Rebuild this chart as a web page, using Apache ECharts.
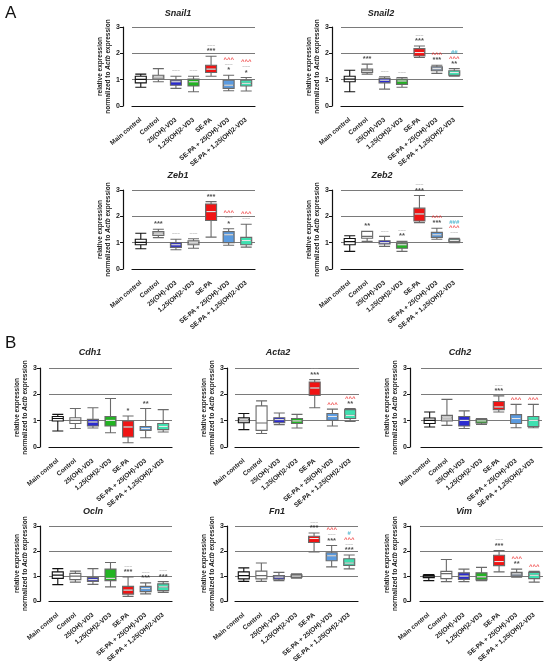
<!DOCTYPE html>
<html>
<head>
<meta charset="utf-8">
<script src="https://cdn.jsdelivr.net/npm/echarts/dist/echarts.min.js"></script>
<style>
  html, body { margin: 0; padding: 0; background: #fff; }
  #main { width: 550px; height: 665px; }
</style>
</head>
<body>
<div id="main"></div>
<script>
// groups, same for every panel
const categories = ['Main control', 'Control', '25(OH)-VD3', '1,25(OH)2-VD3', 'SE-PA', 'SE-PA + 25(OH)-VD3', 'SE-PA + 1,25(OH)2-VD3'];
const genes = ['Snail1', 'Snail2', 'Zeb1', 'Zeb2', 'Cdh1', 'Acta2', 'Cdh2', 'Ocln', 'Fn1', 'Vim'];
const yTicks = [0, 1, 2, 3];

// box values per group: [min, Q1, median, Q3, max]
const snail1 = [[0.71,0.88,1.01,1.13,1.21],[0.92,1.02,1.11,1.17,1.42],[0.67,0.79,0.92,0.98,1.13],[0.54,0.76,0.92,1.02,1.13],[1.13,1.27,1.40,1.55,1.89],[0.58,0.67,0.79,0.98,1.17],[0.57,0.76,0.86,0.98,1.08]];
const snail2 = [[0.54,0.92,1.02,1.13,1.36],[1.21,1.27,1.34,1.40,1.59],[0.64,0.88,0.98,1.05,1.11],[0.71,0.82,0.95,1.02,1.08],[1.84,1.90,2.03,2.18,2.28],[1.24,1.34,1.42,1.49,1.55],[1.13,1.17,1.27,1.34,1.42]];
const zeb1 = [[0.77,0.92,1.01,1.13,1.36],[1.19,1.27,1.36,1.42,1.51],[0.73,0.82,0.92,1.00,1.13],[0.79,0.92,1.00,1.07,1.15],[1.21,1.84,2.18,2.47,2.56],[0.90,1.00,1.30,1.42,1.53],[0.83,0.92,1.08,1.20,1.70]];
const zeb2 = [[0.67,0.92,1.04,1.16,1.26],[1.05,1.17,1.24,1.43,1.43],[0.86,0.95,1.00,1.07,1.24],[0.67,0.79,0.92,0.98,1.05],[1.76,1.82,2.09,2.31,2.79],[1.13,1.20,1.30,1.39,1.55],[1.00,1.05,1.08,1.13,1.17]];
const cdh1 = [[0.61,0.99,1.08,1.16,1.24],[0.70,0.89,1.01,1.11,1.46],[0.72,0.80,0.95,1.05,1.49],[0.54,0.80,1.01,1.16,1.84],[0.16,0.38,0.76,0.99,1.18],[0.35,0.63,0.70,0.78,1.46],[0.57,0.66,0.78,0.89,1.42]];
const acta2 = [[0.66,0.92,1.04,1.11,1.27],[0.51,0.63,0.91,1.56,1.75],[0.85,0.92,1.04,1.11,1.29],[0.72,0.89,0.99,1.08,1.24],[1.49,1.96,2.24,2.47,2.56],[0.80,1.01,1.16,1.27,1.44],[0.97,1.08,1.20,1.42,1.46]];
const cdh2 = [[0.76,0.89,1.01,1.10,1.33],[0.82,0.99,1.11,1.20,1.81],[0.70,0.80,1.01,1.16,1.37],[0.86,0.91,0.99,1.05,1.08],[1.33,1.42,1.52,1.73,1.94],[0.73,0.89,1.08,1.23,1.62],[0.73,0.78,1.01,1.16,1.62]];
const ocln = [[0.66,0.91,1.04,1.17,1.30],[0.76,0.86,1.00,1.11,1.20],[0.67,0.79,0.86,0.94,1.30],[0.57,0.82,0.91,1.28,1.54],[0.19,0.28,0.44,0.59,0.97],[0.29,0.38,0.50,0.59,0.73],[0.35,0.42,0.57,0.69,0.78]];
const fn1 = [[0.79,0.89,1.02,1.17,1.33],[0.79,0.89,1.02,1.20,1.52],[0.82,0.88,0.96,1.02,1.15],[0.92,0.96,1.00,1.05,1.09],[1.96,2.34,2.50,2.59,2.72],[1.37,1.61,1.81,1.93,2.22],[1.29,1.43,1.52,1.69,1.84]];
const vim = [[0.82,0.94,0.97,1.03,1.06],[0.78,0.90,1.10,1.19,1.66],[0.78,0.87,1.00,1.13,1.28],[0.82,0.85,0.97,1.13,1.35],[1.17,1.42,1.58,1.83,2.02],[0.96,1.00,1.09,1.15,1.28],[0.76,0.90,1.03,1.15,1.19]];

// significance marks stacked above each box, bottom to top
const snail1Sig = [[],[],['~~~'],['~~~'],['***','~~~'],['*','~~~','^^^'],['*','~~~','^^^']];
const snail2Sig = [[],['***'],['~~~'],['~~~'],['***','~~~'],['***','^^^'],['**','^^^','##']];
const zeb1Sig = [[],['***'],['~~~'],['~~~'],['***','~~~'],['*','~~~','^^^'],['~~~','^^^']];
const zeb2Sig = [[],['**'],['~~~'],['**','~~~'],['***','~~~'],['***','^^^'],['~~~','^^^','###']];
const cdh1Sig = [[],[],[],[],['*'],['**'],[]];
const acta2Sig = [[],[],[],[],['***','~~~'],['^^^'],['**','^^^']];
const cdh2Sig = [[],[],[],[],['***','~~~'],['^^^'],['^^^']];
const oclnSig = [[],[],[],[],['***','~~~'],['***','~~~'],['***','~~~']];
const fn1Sig = [[],[],[],[],['***','~~~'],['***','~~~','^^^'],['***','~~~','^^^','#']];
const vimSig = [[],[],[],[],['***','~~~'],['**','^^^'],['^^^']];

const boxData = [snail1, snail2, zeb1, zeb2, cdh1, acta2, cdh2, ocln, fn1, vim];
const sigData = [snail1Sig, snail2Sig, zeb1Sig, zeb2Sig, cdh1Sig, acta2Sig, cdh2Sig, oclnSig, fn1Sig, vimSig];

// colours
const W = '#ffffff', LG = '#c8c8c8', BL = '#2b2bd0', GR = '#22b422', RD = '#f01414', LB = '#5b9be0', AQ = '#3fe0b0', GB = '#8c9cb4';
const fills = [
  [W, LG, BL, GR, RD, LB, AQ],
  [W, W, BL, GR, RD, GB, AQ],
  [W, LG, BL, LG, RD, LB, AQ],
  [W, W, BL, GR, RD, LB, '#52c8a6'],
  [W, W, BL, GR, RD, LB, AQ],
  [LG, W, BL, GR, RD, LB, AQ],
  [W, LG, BL, GR, RD, LB, AQ],
  [W, W, BL, GR, RD, LB, AQ],
  [W, W, BL, LG, RD, LB, AQ],
  [W, W, BL, GR, RD, GB, AQ]
];
const sigColor = { '*': '#222', '~': '#9a9a9a', '^': '#ee2020', '#': '#2aa6c4' };

// layout: grid box (x axis span), y axis offset, title centre x / top
const layout = [
  { left: 132, top: 27, width: 123, yOff: 9, tx: 178, ty: 9 },
  { left: 341, top: 27, width: 122, yOff: 9, tx: 381, ty: 9 },
  { left: 132, top: 190, width: 123, yOff: 9, tx: 178, ty: 171 },
  { left: 341, top: 190, width: 122, yOff: 9, tx: 382, ty: 171 },
  { left: 49, top: 368, width: 123, yOff: 9, tx: 90, ty: 348 },
  { left: 235, top: 368, width: 124, yOff: 8, tx: 278, ty: 348 },
  { left: 421, top: 368, width: 121, yOff: 11, tx: 460, ty: 348 },
  { left: 49, top: 526, width: 123, yOff: 9, tx: 93, ty: 507 },
  { left: 235, top: 526, width: 123, yOff: 8, tx: 277, ty: 507 },
  { left: 420, top: 526, width: 123, yOff: 10, tx: 464, ty: 507 }
];

const FONT = 'Arial, "Liberation Sans", sans-serif';
const chart = echarts.init(document.getElementById('main'), null, { renderer: 'canvas' });

const titles = genes.map((g, i) => ({
  text: g,
  left: layout[i].tx,
  top: layout[i].ty,
  padding: 0,
  textAlign: 'center',
  textStyle: { fontSize: 9, fontWeight: 'bold', fontStyle: 'italic', color: '#222', fontFamily: FONT }
}));
titles.push({ text: 'A', left: 5, top: 5, padding: 0, textStyle: { fontSize: 17, fontWeight: 'normal', color: '#111', fontFamily: FONT } });
titles.push({ text: 'B', left: 5, top: 335, padding: 0, textStyle: { fontSize: 17, fontWeight: 'normal', color: '#111', fontFamily: FONT } });

const grids = layout.map(l => ({ left: l.left, top: l.top, width: l.width, height: 79 }));

const xAxes = layout.map((l, i) => ({
  type: 'category', gridIndex: i, data: categories, offset: 9,
  axisLine: { lineStyle: { color: '#111', width: 1.2 } },
  axisTick: { alignWithLabel: true, length: 3, lineStyle: { color: '#111' } },
  axisLabel: { rotate: 40, interval: 0, fontSize: 6.5, fontWeight: 'bold', color: '#222', margin: 4, fontFamily: FONT },
  splitLine: { show: false }
}));

const yAxes = layout.map((l, i) => ({
  type: 'value', gridIndex: i, min: yTicks[0], max: yTicks[yTicks.length - 1], interval: 1, offset: l.yOff,
  axisLine: { show: true, lineStyle: { color: '#111', width: 1.2 } },
  axisTick: { show: true, length: 3, lineStyle: { color: '#111' } },
  axisLabel: { fontSize: 7, fontWeight: 'bold', color: '#222', margin: 3, fontFamily: FONT },
  splitLine: { show: true, lineStyle: { color: '#7a7a7a', width: 1 } },
  name: 'relative expression\nnormalized to {i|Actb} expression',
  nameLocation: 'middle', nameRotate: 90, nameGap: 6,
  nameTextStyle: {
    fontSize: 6.5, fontWeight: 'bold', color: '#222', lineHeight: 8, fontFamily: FONT,
    rich: { i: { fontSize: 6.5, fontWeight: 'bold', fontStyle: 'italic', color: '#222', fontFamily: FONT } }
  }
}));

const series = [];
boxData.forEach((boxes, i) => {
  series.push({
    type: 'boxplot', xAxisIndex: i, yAxisIndex: i,
    boxWidth: [11, 11],
    data: boxes.map((b, k) => ({
      value: b,
      itemStyle: { color: fills[i][k], borderColor: k === 0 ? '#111' : '#6a6a6a', borderWidth: 1.1 }
    })),
    silent: true
  });
  // light median line inside the filled boxes
  const medians = [];
  boxes.forEach((b, k) => { if (fills[i][k] !== W) medians.push([k, b[2]]); });
  series.push({
    type: 'custom', xAxisIndex: i, yAxisIndex: i, silent: true, z: 3,
    encode: { x: 0, y: 1 },
    data: medians,
    renderItem: (params, api) => {
      const c = api.coord([api.value(0), api.value(1)]);
      return {
        type: 'line',
        shape: { x1: c[0] - 4.5, y1: c[1], x2: c[0] + 4.5, y2: c[1] },
        style: { stroke: '#eeeeee', lineWidth: 1 }
      };
    }
  });
  const marks = [];
  sigData[i].forEach((stack, k) => {
    stack.forEach((s, j) => {
      const c = sigColor[s[0]];
      const size = s[0] === '~' ? 4.5 : (s[0] === '*' ? 7.5 : 6);
      marks.push({
        value: [k, boxes[k][4]],
        label: { formatter: s, color: c, fontSize: size, offset: [0, -(5 + 5.5 * j)] }
      });
    });
  });
  series.push({
    type: 'scatter', xAxisIndex: i, yAxisIndex: i, symbolSize: 0, silent: true,
    label: { show: true, position: 'inside', fontWeight: 'bold', fontFamily: FONT },
    data: marks
  });
});

chart.setOption({
  animation: false,
  backgroundColor: '#fff',
  textStyle: { fontFamily: FONT },
  title: titles,
  grid: grids,
  xAxis: xAxes,
  yAxis: yAxes,
  series: series
});
</script>
</body>
</html>
